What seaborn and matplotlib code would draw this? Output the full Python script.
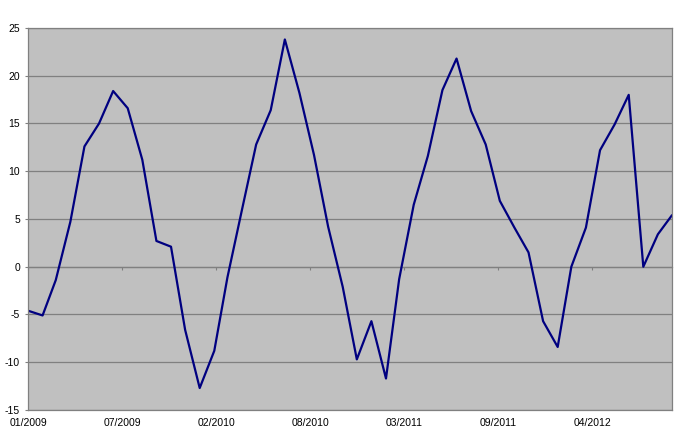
import pandas as pd
import seaborn as sns
import matplotlib
matplotlib.use("Agg")
import matplotlib.pyplot as plt
import matplotlib.dates as mdates

# ------------ Data ------------
start_month = "2009-01-01"
values = [
    -4.6, -5.1, -1.4, 4.7, 12.6, 15.0, 18.4, 16.6, 11.2, 2.7, 2.1, -6.6,
    -12.7, -8.8, -1.1, 6.0, 12.8, 16.4, 23.8, 18.2, 11.7, 4.2, -2.1, -9.7,
    -5.7, -11.7, -1.3, 6.5, 11.6, 18.5, 21.8, 16.3, 12.8, 6.9, 4.1, 1.5,
    -5.7, -8.4, 0.0, 4.1, 12.2, 14.9, 18.0, 0.0, 3.4, 5.4,
]
y_ticks = [-15, -10, -5, 0, 5, 10, 15, 20, 25]
tick_step_days = 200
n_date_ticks = 7

dates = pd.date_range(start_month, periods=len(values), freq="MS")
df = pd.DataFrame({"date": dates, "value": values})

# ------------ Style ------------
sns.set_style("white")
plt.rcParams["font.family"] = ["Liberation Sans", "DejaVu Sans"]
plt.rcParams["axes.unicode_minus"] = False
GRID = "#808080"

fig = plt.figure(figsize=(7, 4.4), dpi=100)
ax = fig.add_axes([28 / 700, 1 - 410 / 440, 644 / 700, 382 / 440])
ax.set_facecolor("#C0C0C0")

sns.lineplot(data=df, x="date", y="value", color="#000080", linewidth=1.6, ax=ax)

ax.set_ylim(y_ticks[0], y_ticks[-1])
ax.set_yticks(y_ticks)
ax.yaxis.grid(True, color=GRID, linewidth=0.9)
ax.xaxis.grid(False)
ax.set_axisbelow(True)

ax.set_xlim(dates[0], dates[-1])
date_ticks = pd.date_range(start_month, periods=n_date_ticks, freq=f"{tick_step_days}D")
ax.set_xticks(date_ticks)
ax.xaxis.set_major_formatter(mdates.DateFormatter("%m/%Y"))

ax.set_xlabel("")
ax.set_ylabel("")
for side in ["top", "right", "bottom", "left"]:
    ax.spines[side].set_color(GRID)
    ax.spines[side].set_linewidth(0.9)

ax.tick_params(axis="y", which="major", left=True, length=2.2, width=0.8,
               color=GRID, pad=3.5, labelsize=7.5, labelcolor="black")
ax.tick_params(axis="x", which="major", bottom=False, length=0, pad=6,
               labelsize=7.5, labelcolor="black")

# category axis crosses at y = 0 with small tick marks there
zero_axis = ax.secondary_xaxis(0, transform=ax.transData)
zero_axis.set_xticks(date_ticks)
zero_axis.tick_params(axis="x", length=2.2, width=0.8, color=GRID, labelbottom=False)
zero_axis.spines["bottom"].set_color(GRID)
zero_axis.spines["bottom"].set_linewidth(0.9)

fig.savefig("out.png", dpi=100)
